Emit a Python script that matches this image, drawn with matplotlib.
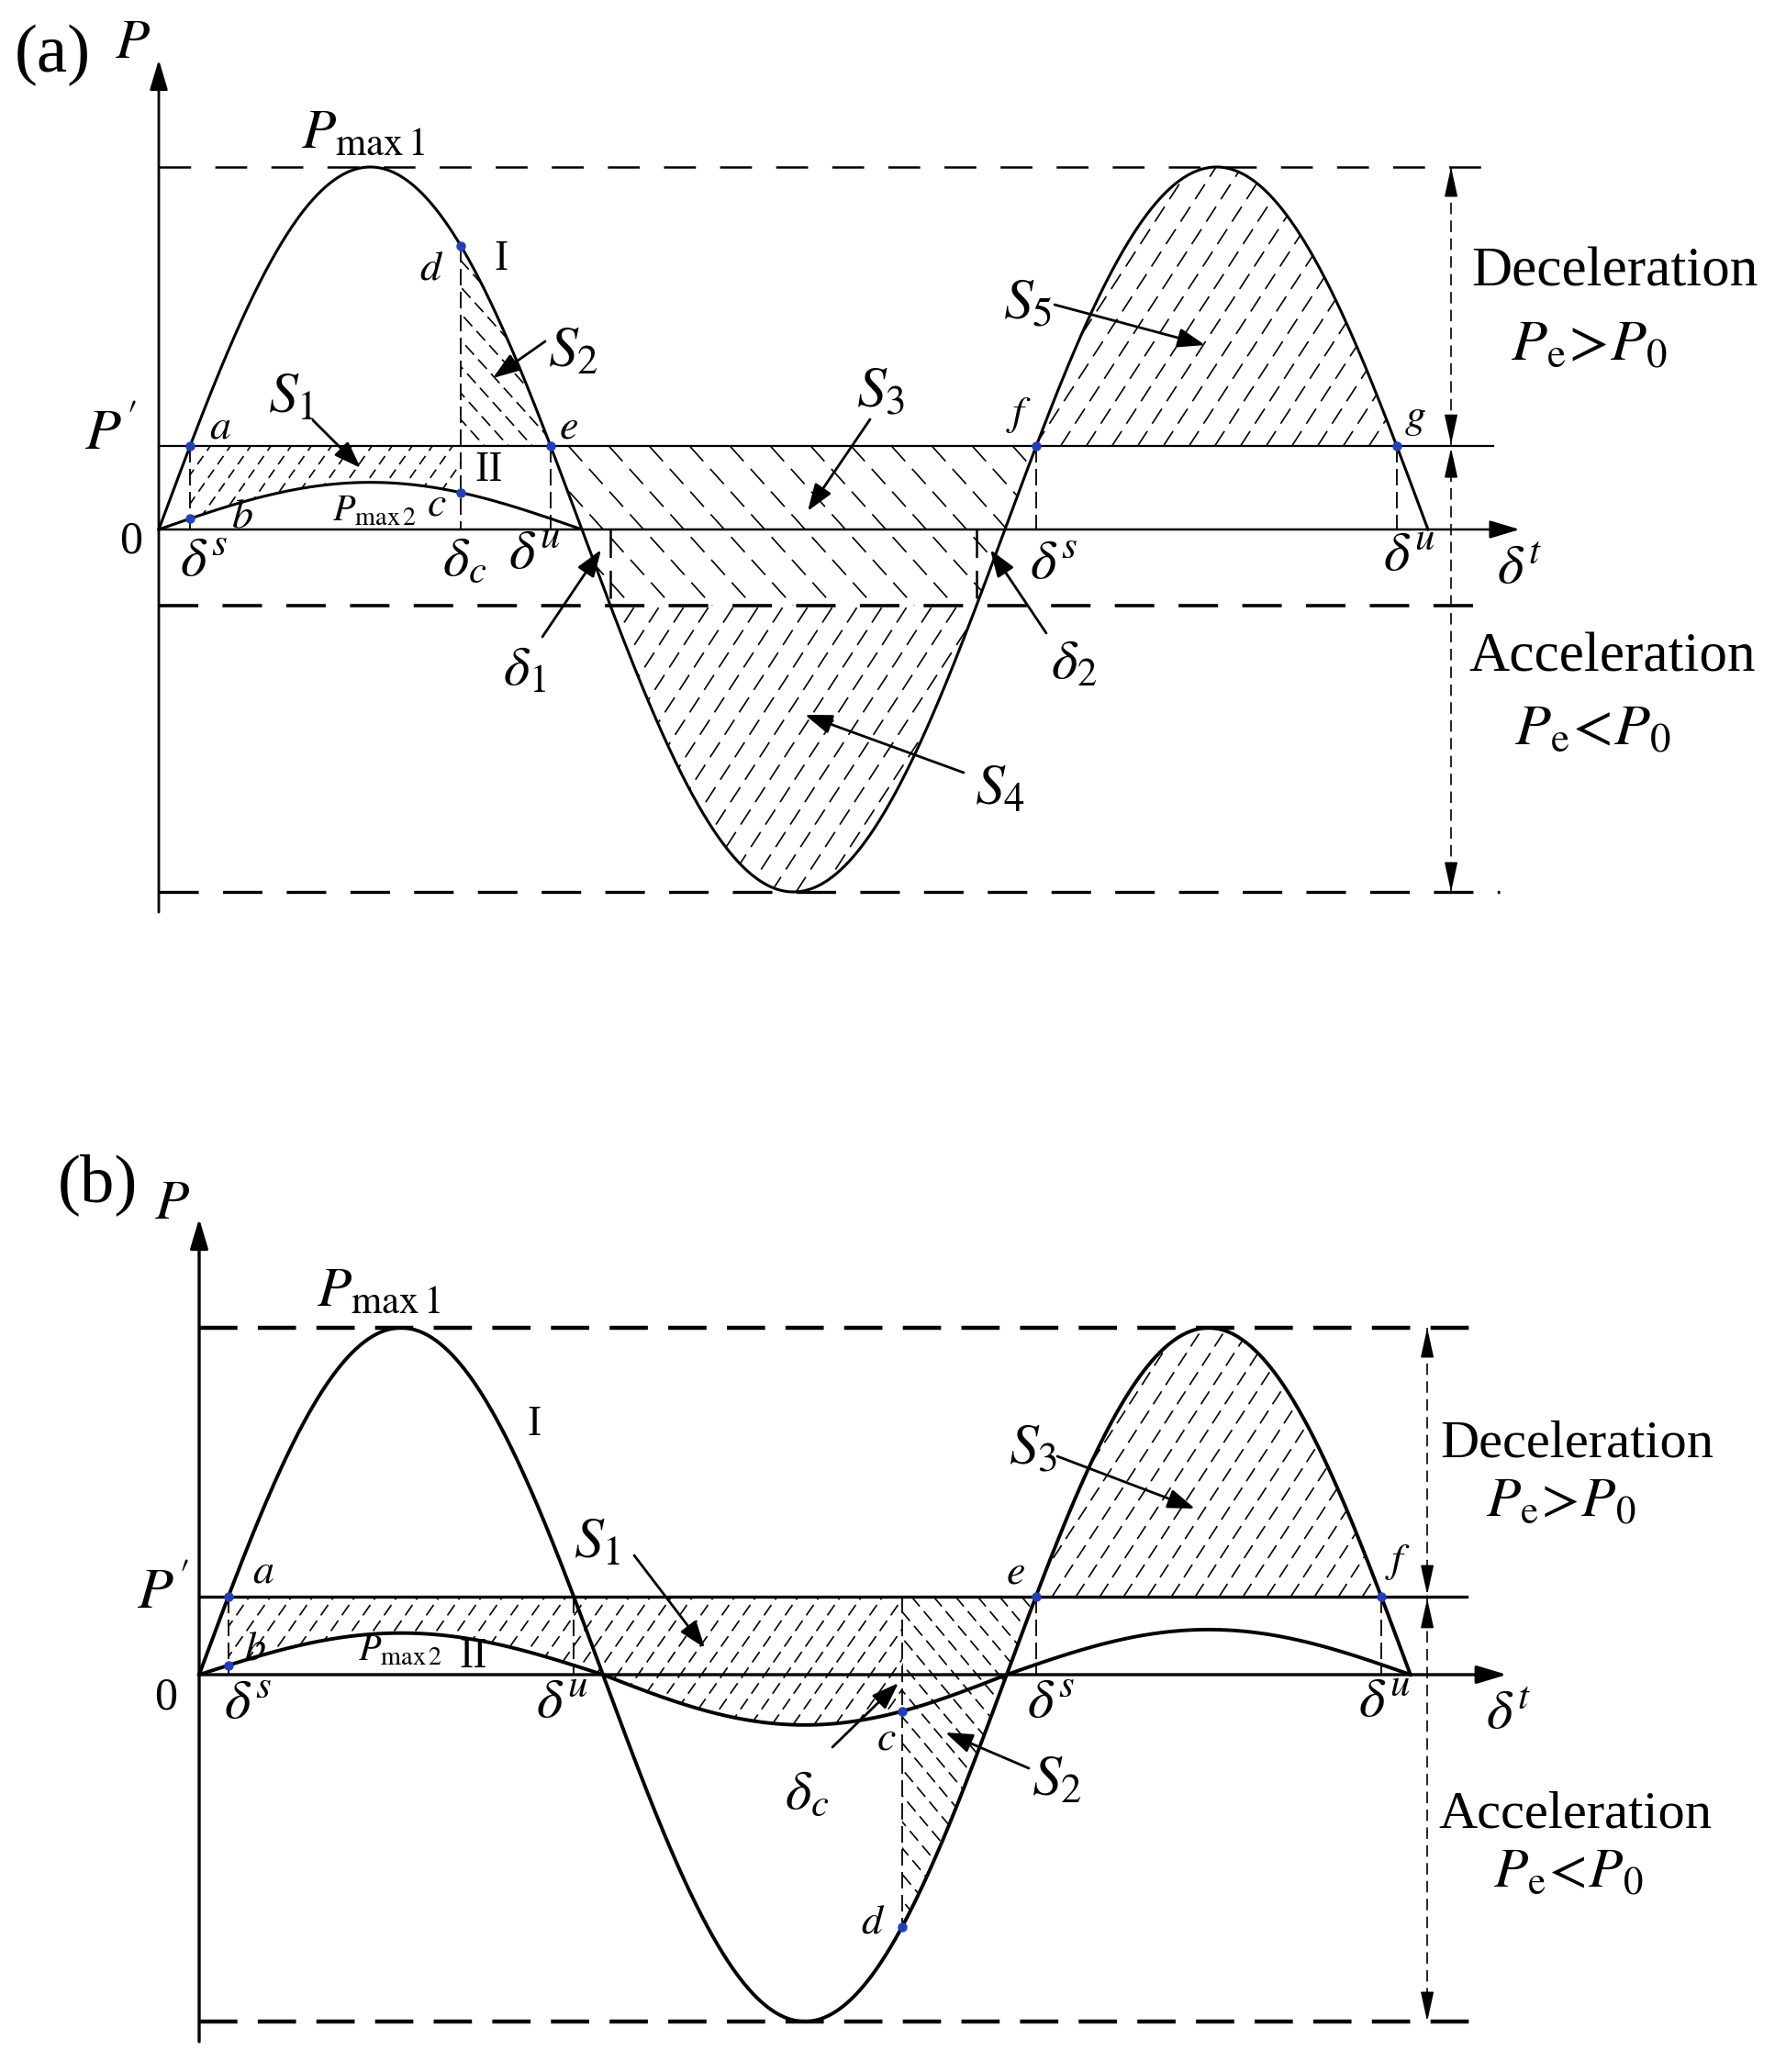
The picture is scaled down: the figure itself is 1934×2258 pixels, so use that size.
import numpy as np
import matplotlib
matplotlib.use("Agg")
import matplotlib.pyplot as plt
from matplotlib.patches import Polygon
from matplotlib.transforms import Affine2D

# power-angle characteristics: delta in degrees, P in per unit of Pmax1
a_pmax1 = 1.0
a_pmax2 = 0.13          # curve II, only first half wave drawn in (a)
a_p_prime = 0.23
a_p_low = -0.21         # dashed level below the axis in (a)
a_delta_c = 128.5
a_delta_end = 540.0
a_delta_II_end = 180.0

b_pmax1 = 1.0
b_pmax2 = [0.12, 0.145, 0.13]   # curve II amplitude of each half wave in (b)
b_p_prime = 0.225
b_delta_c = 313.4
b_delta_end = 540.0

W, H = 1934, 2258
plt.rcParams['font.family'] = ['Liberation Serif', 'DejaVu Serif']
plt.rcParams['mathtext.fontset'] = 'stix'
plt.rcParams['lines.scale_dashes'] = False

fig = plt.figure(figsize=(W / 100, H / 100), dpi=100)
PX = Affine2D().scale(1, -1).translate(0, H)   # image pixels, y pointing down
BLUE = '#1f3fbf'

# font sizes
F_PANEL, F_P, F_PMAX, F_PMAX2 = 54, 44, 44, 29
F_S, F_DELTA, F_PT, F_ROMAN, F_ZERO, F_TXT = 46, 44, 33, 33, 36, 44


def wave(d, amps):
    d = np.atleast_1d(np.asarray(d, float))
    amps = np.atleast_1d(amps)
    k = np.clip((d // 180).astype(int), 0, len(amps) - 1)
    return amps[k] * np.sin(np.radians(d))


def make_ax(top, bot, origin, kx, ky):
    x0, y0 = origin
    ax = fig.add_axes([0, 1 - bot / H, 1, (bot - top) / H])
    ax.set_xlim(-x0 / kx, (W - x0) / kx)
    ax.set_ylim((y0 - bot) / ky, (y0 - top) / ky)
    ax.set_autoscale_on(False)
    ax.axis('off')
    return ax


def hatch(ax, verts, spacing, angle=55, slash=True, lw=1.2, dashes=(9, 5)):
    verts = np.asarray(verts, float)
    clip = Polygon(verts, closed=True, fill=False, edgecolor='none')
    ax.add_patch(clip)
    disp = ax.transData.transform(verts)
    x0, y0 = disp.min(axis=0)
    x1, y1 = disp.max(axis=0)
    run = (y1 - y0) / np.tan(np.radians(angle))
    inv = ax.transData.inverted()
    for xs in np.arange(x0 - run, x1 + spacing, spacing):
        if slash:
            seg = [(xs, y0), (xs + run, y1)]
        else:
            seg = [(xs, y1), (xs + run, y0)]
        seg = inv.transform(seg)
        ln, = ax.plot(seg[:, 0], seg[:, 1], color='k', lw=lw, dashes=dashes)
        ln.set_clip_path(clip)


def label(s, x, y, size, **kw):
    fig.text(x, y, s, transform=PX, ha='center', va='center', fontsize=size, **kw)


def pointer(ax, tail, tip, lw=2.0):
    ax.annotate('', xy=tip, xycoords=PX, xytext=tail, textcoords=PX,
                arrowprops=dict(arrowstyle='-|>,head_length=0.9,head_width=0.32',
                                mutation_scale=20, lw=lw, color='k',
                                shrinkA=0, shrinkB=0))


def axis_arrow(ax, start, end, lw):
    ax.annotate('', xy=end, xytext=start,
                arrowprops=dict(arrowstyle='-|>,head_length=1.0,head_width=0.3',
                                mutation_scale=20, lw=lw, color='k',
                                shrinkA=0, shrinkB=0))


def vdash(ax, x, ya, yb, lw=1.3, dashes=(13, 5)):
    ax.plot([x, x], [ya, yb], color='k', lw=lw, dashes=dashes)


def dim_line(ax, x, top, mid, bot, dy):
    ax.plot([x, x], [top, bot], color='k', lw=1.2, dashes=(9, 5))
    style = dict(arrowstyle='-|>,head_length=1.0,head_width=0.22', mutation_scale=20,
                 lw=1.2, color='k', shrinkA=0, shrinkB=0)
    ax.annotate('', xy=(x, top), xytext=(x, top - dy), arrowprops=style)
    ax.annotate('', xy=(x, mid + 0.005), xytext=(x, mid + dy), arrowprops=style)
    ax.annotate('', xy=(x, mid - 0.005), xytext=(x, mid - dy), arrowprops=style)
    ax.annotate('', xy=(x, bot), xytext=(x, bot + dy), arrowprops=style)


PE_GT = r"$P_{\rm e}\!>\!P_0$"
PE_LT = r"$P_{\rm e}\!<\!P_0$"

# ------------------------------------------------------------------ panel (a)
ax = make_ax(0, 1100, (173, 577), 2.561, 395)
ds = np.degrees(np.arcsin(a_p_prime / a_pmax1))
du, ds2, du2 = 180 - ds, 360 + ds, 540 - ds
dl = np.degrees(np.arcsin(-a_p_low / a_pmax1))
d1, d2 = 180 + dl, 360 - dl
I = lambda d: wave(d, a_pmax1)
II = lambda d: wave(d, a_pmax2)
dc = a_delta_c
Idc, IIdc = I(dc)[0], II(dc)[0]

xs = np.linspace(ds, dc, 100)[::-1]
hatch(ax, [(ds, a_p_prime), (dc, a_p_prime)] + list(zip(xs, II(xs))), 22, 55, True, dashes=(8, 5))
xs = np.linspace(dc, du, 100)
hatch(ax, [(dc, a_p_prime)] + list(zip(xs, I(xs))) + [(du, a_p_prime)], 26, 48, False, dashes=(10, 5))
xr = np.linspace(d2, ds2, 100)[::-1]
xl = np.linspace(du, d1, 100)[::-1]
hatch(ax, [(du, a_p_prime), (ds2, a_p_prime)] + list(zip(xr, I(xr))) +
      [(d2, a_p_low), (d1, a_p_low)] + list(zip(xl, I(xl))), 44, 48, False, dashes=(16, 8))
xs = np.linspace(d1, d2, 200)
hatch(ax, list(zip(xs, I(xs))) + [(d2, a_p_low), (d1, a_p_low)], 27, 57, True, dashes=(14, 7))
xs = np.linspace(ds2, du2, 200)
hatch(ax, list(zip(xs, I(xs))), 28, 57, True, dashes=(14, 7))

d = np.linspace(0, a_delta_end, 1200)
ax.plot(d, I(d), color='k', lw=2.2)
d = np.linspace(0, a_delta_II_end, 400)
ax.plot(d, II(d), color='k', lw=2.2)

ax.plot([0, 570.5], [a_pmax1, a_pmax1], color='k', lw=1.8, dashes=(25, 19))
ax.plot([0, 567.7], [a_p_prime, a_p_prime], color='k', lw=1.6)
ax.plot([0, 567.7], [a_p_low, a_p_low], color='k', lw=2.6, dashes=(31, 19))
ax.plot([0, 570.5], [-a_pmax1, -a_pmax1], color='k', lw=2.4, dashes=(31, 19))
axis_arrow(ax, (0, 0), (579, 0), 1.8)
axis_arrow(ax, (0, -1.056), (0, 1.296), 2.0)

vdash(ax, ds, a_p_prime, 0)
vdash(ax, dc, Idc, 0)
vdash(ax, du, a_p_prime, 0)
vdash(ax, ds2, a_p_prime, 0)
vdash(ax, du2, a_p_prime, 0)
vdash(ax, d1, 0, a_p_low, lw=1.8, dashes=(22, 10))
vdash(ax, d2, 0, a_p_low, lw=1.8, dashes=(22, 10))
dim_line(ax, 549.8, a_pmax1, a_p_prime, -a_pmax1, 0.08)

ax.plot([ds, ds, dc, dc, du, ds2, du2],
        [a_p_prime, II(ds)[0], IIdc, Idc, a_p_prime, a_p_prime, a_p_prime],
        'o', color=BLUE, ms=6.5, zorder=5)

for s, x, y, size in [
        ("(a)", 57, 60, F_PANEL), (r"$P$", 144, 48, F_P), (r"$P_{\rm max\,1}$", 395, 146, F_PMAX),
        ("I", 546, 283, F_ROMAN), ("II", 533, 513, F_ROMAN), (r"$P_{\rm max\,2}$", 408, 558, F_PMAX2),
        (r"$S_1$", 318, 435, F_S), (r"$S_2$", 625, 385, F_S), (r"$S_3$", 960, 428, F_S),
        (r"$S_4$", 1090, 862, F_S), (r"$S_5$", 1120, 332, F_S),
        (r"$\delta_1$", 571, 732, F_DELTA), (r"$\delta_2$", 1170, 725, F_DELTA),
        (r"$a$", 240, 466, F_PT), (r"$b$", 264, 563, F_PT), (r"$c$", 476, 550, F_PT),
        (r"$d$", 470, 293, F_PT), (r"$e$", 619, 466, F_PT), (r"$f$", 1110, 453, F_PT),
        (r"$g$", 1542, 456, F_PT), (r"$P'$", 121, 475, 46), ("0", 143, 590, F_ZERO),
        (r"$\delta^s$", 222, 612, F_DELTA), (r"$\delta_c$", 506, 612, F_DELTA),
        (r"$\delta^u$", 583, 605, F_DELTA), (r"$\delta^s$", 1148, 615, F_DELTA),
        (r"$\delta^u$", 1536, 607, F_DELTA), (r"$\delta^t$", 1656, 621, F_DELTA),
        ("Deceleration", 1759, 297, F_TXT), (PE_GT, 1731, 377, 46),
        ("Acceleration", 1757, 717, F_TXT), (PE_LT, 1735, 796, 46)]:
    label(s, x, y, size)

for tail, tip in [((341, 458), (393, 510)), ((594, 372), (537, 412)),
                  ((948, 457), (880, 557)), ((1050, 842), (877, 779)),
                  ((1149, 332), (1313, 376)), ((591, 694), (655, 599)),
                  ((1140, 690), (1079, 599))]:
    pointer(ax, tail, tip)

# ------------------------------------------------------------------ panel (b)
ax = make_ax(1100, H, (217, 1825), 2.444, 378)
ds = np.degrees(np.arcsin(b_p_prime / b_pmax1))
du, ds2, du2 = 180 - ds, 360 + ds, 540 - ds
I = lambda d: wave(d, b_pmax1)
II = lambda d: wave(d, b_pmax2)
dc = b_delta_c
Idc, IIdc = I(dc)[0], II(dc)[0]

xs = np.linspace(ds, dc, 200)[::-1]
hatch(ax, [(ds, b_p_prime), (dc, b_p_prime)] + list(zip(xs, II(xs))), 23, 55, True, dashes=(10, 5))
xs = np.linspace(dc, ds2, 100)[::-1]
hatch(ax, [(dc, b_p_prime), (ds2, b_p_prime)] + list(zip(xs, I(xs))), 24, 50, False, dashes=(10, 5))
xs = np.linspace(ds2, du2, 200)
hatch(ax, list(zip(xs, I(xs))), 26, 57, True, dashes=(12, 6))

d = np.linspace(0, b_delta_end, 1200)
ax.plot(d, I(d), color='k', lw=2.8)
ax.plot(d, II(d), color='k', lw=2.8)

ax.plot([0, 568], [b_pmax1, b_pmax1], color='k', lw=3.2, dashes=(30, 16))
ax.plot([0, 565], [b_p_prime, b_p_prime], color='k', lw=2.4)
ax.plot([0, 568], [-b_pmax1, -b_pmax1], color='k', lw=3.2, dashes=(30, 16))
axis_arrow(ax, (0, 0), (583, 0), 2.4)
axis_arrow(ax, (0, -1.058), (0, 1.315), 2.4)

vdash(ax, ds, b_p_prime, 0)
vdash(ax, du, b_p_prime, 0)
vdash(ax, dc, b_p_prime, Idc)
vdash(ax, ds2, b_p_prime, 0)
vdash(ax, du2, b_p_prime, 0)
dim_line(ax, 547.5, b_pmax1, b_p_prime, -b_pmax1, 0.08)

ax.plot([ds, ds, dc, dc, ds2, du2],
        [b_p_prime, II(ds)[0], IIdc, Idc, b_p_prime, b_p_prime],
        'o', color=BLUE, ms=6.5, zorder=5)

for s, x, y, size in [
        ("(b)", 106, 1291, F_PANEL), (r"$P$", 187, 1313, F_P), (r"$P_{\rm max\,1}$", 412, 1408, F_PMAX),
        ("I", 582, 1553, F_ROMAN), ("II", 516, 1806, F_ROMAN), (r"$P_{\rm max\,2}$", 436, 1800, F_PMAX2),
        (r"$S_1$", 651, 1683, F_S), (r"$S_2$", 1152, 1942, F_S), (r"$S_3$", 1126, 1580, F_S),
        (r"$\delta_c$", 879, 1956, F_DELTA),
        (r"$a$", 287, 1713, F_PT), (r"$b$", 278, 1797, F_PT), (r"$c$", 966, 1895, F_PT),
        (r"$d$", 951, 2095, F_PT), (r"$e$", 1106, 1714, F_PT), (r"$f$", 1523, 1703, F_PT),
        (r"$P'$", 178, 1738, 46), ("0", 181, 1850, F_ZERO),
        (r"$\delta^s$", 270, 1857, F_DELTA), (r"$\delta^u$", 613, 1857, F_DELTA),
        (r"$\delta^s$", 1145, 1856, F_DELTA), (r"$\delta^u$", 1509, 1856, F_DELTA),
        (r"$\delta^t$", 1644, 1869, F_DELTA),
        ("Deceleration", 1718, 1573, 42), (PE_GT, 1701, 1638, 44),
        ("Acceleration", 1716, 1977, 42), (PE_LT, 1709, 2042, 44)]:
    label(s, x, y, size)

for tail, tip in [((691, 1695), (768, 1796)), ((1121, 1927), (1030, 1888)),
                  ((907, 1904), (979, 1834)), ((1152, 1587), (1302, 1644))]:
    pointer(ax, tail, tip)

fig.savefig('out.png', dpi=100)
